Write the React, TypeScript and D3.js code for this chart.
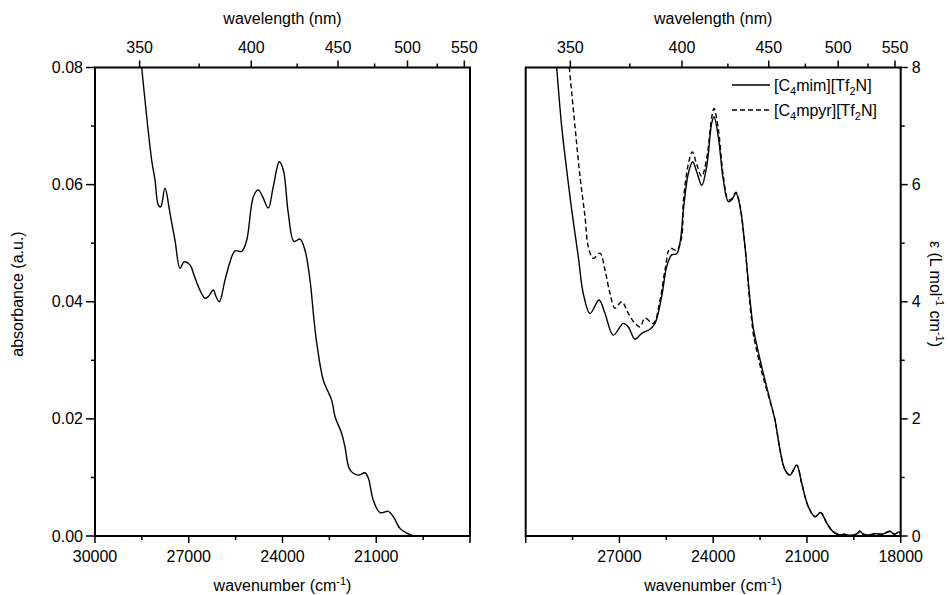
import React from 'react';
import * as d3 from 'd3';

// ---------- data ----------
const leftWn = [28506, 28187, 28080, 27974, 27898, 27760, 27600, 27440, 27280, 27152, 26960, 26854, 26694, 26480, 26374, 26214, 26128, 26022, 25840, 25680, 25520, 25306, 25146, 24934, 24774, 24634, 24454, 24294, 24102, 23974, 23814, 23632, 23440, 23280, 23120, 22992, 22906, 22694, 22426, 22320, 22106, 22000, 21840, 21574, 21360, 21254, 21094, 20880, 20614, 20454, 20240, 20026, 19814];
const leftAbs = [0.080, 0.0642, 0.0608, 0.0565, 0.0562, 0.0594, 0.0551, 0.0505, 0.0457, 0.0468, 0.0463, 0.0449, 0.0426, 0.0406, 0.0409, 0.0420, 0.0409, 0.0400, 0.0437, 0.0468, 0.0487, 0.0486, 0.0505, 0.0579, 0.0591, 0.0579, 0.0560, 0.0597, 0.0639, 0.0625, 0.0551, 0.0503, 0.0507, 0.0488, 0.0437, 0.0369, 0.0330, 0.0266, 0.0232, 0.0204, 0.0175, 0.0152, 0.0113, 0.0104, 0.0108, 0.0099, 0.0061, 0.0040, 0.0042, 0.0033, 0.0013, 0.0005, 0.0];

const mimWn = [29008, 28848, 28688, 28528, 28317, 28157, 27942, 27654, 27462, 27197, 26877, 26717, 26502, 26288, 26022, 25862, 25648, 25488, 25328, 25168, 25050, 24957, 24797, 24656, 24528, 24368, 24208, 24048, 23974, 23837, 23677, 23517, 23408, 23270, 23142, 22982, 22822, 22717, 22662, 22448, 22182, 22022, 21862, 21702, 21542, 21328, 21168, 20957, 20742, 20560, 20368, 20157, 19942, 19800, 19600, 19400, 19302, 19200, 19000, 18800, 18600, 18450, 18342, 18200, 18050, 18000];
const mimEps = [8.0, 6.99, 6.25, 5.57, 4.77, 4.14, 3.80, 4.03, 3.80, 3.43, 3.63, 3.57, 3.36, 3.46, 3.53, 3.63, 4.09, 4.60, 4.80, 4.82, 5.05, 5.55, 6.19, 6.39, 6.22, 5.99, 6.31, 7.05, 7.16, 6.82, 6.08, 5.71, 5.74, 5.85, 5.62, 4.94, 4.03, 3.55, 3.40, 2.89, 2.32, 1.98, 1.47, 1.13, 1.04, 1.21, 0.90, 0.50, 0.33, 0.40, 0.22, 0.07, 0.02, 0.03, 0.01, 0.04, 0.08, 0.03, 0.02, 0.04, 0.03, 0.06, 0.08, 0.03, 0.07, 0.02];

const mpyrWn = [28605, 28422, 28262, 28102, 27997, 27837, 27622, 27462, 27302, 27142, 26928, 26717, 26502, 26342, 26182, 25917, 25702, 25542, 25382, 25168, 25008, 24957, 24797, 24669, 24528, 24368, 24208, 24048, 23974, 23837, 23677, 23517, 23408, 23270, 23142, 22982, 22822, 22717, 22662, 22448, 22182, 22022, 21862, 21702, 21542, 21328, 21168, 20957, 20742, 20560, 20368, 20157, 19942, 19800, 19600, 19400, 19302, 19200, 19000, 18800, 18600, 18450, 18342, 18200, 18050, 18000];
const mpyrEps = [8.0, 6.99, 6.14, 5.45, 4.94, 4.74, 4.83, 4.54, 4.14, 3.89, 4.00, 3.80, 3.63, 3.57, 3.72, 3.63, 4.03, 4.54, 4.91, 4.88, 5.11, 5.70, 6.35, 6.56, 6.35, 6.14, 6.45, 7.15, 7.30, 6.95, 6.15, 5.74, 5.76, 5.87, 5.64, 4.94, 3.95, 3.45, 3.30, 2.80, 2.30, 1.98, 1.47, 1.13, 1.04, 1.21, 0.90, 0.50, 0.33, 0.40, 0.22, 0.07, 0.02, 0.03, 0.01, 0.04, 0.08, 0.03, 0.02, 0.04, 0.03, 0.06, 0.08, 0.03, 0.07, 0.02];

const wnTicks = [30000, 27000, 24000, 21000, 18000];
const wnMinor = [28500, 25500, 22500, 19500];
const leftWnLabels = [30000, 27000, 24000, 21000];
const rightWnLabels = [27000, 24000, 21000, 18000];
const wlTicks = [350, 400, 450, 500, 550];
const wlMinor = [375, 425, 475, 525];
const absTicks = [0, 0.02, 0.04, 0.06, 0.08];
const absMinor = [0.01, 0.03, 0.05, 0.07];
const epsTicks = [0, 2, 4, 6, 8];
const epsMinor = [1, 3, 5, 7];

const FONT = "'Liberation Sans', Arial, sans-serif";
const TOP = 67.5;
const BOTTOM = 536;
const MAJ = 7;
const MIN = 4;

function Panel({ x0, x1, side }: { x0: number; x1: number; side: 'left' | 'right' }) {
  const x = d3.scaleLinear().domain([30000, 18000]).range([x0, x1]);
  const y = side === 'left'
    ? d3.scaleLinear().domain([0, 0.08]).range([BOTTOM, TOP])
    : d3.scaleLinear().domain([0, 8]).range([BOTTOM, TOP]);
  const wl = (nm: number) => x(1e7 / nm);
  const clipId = 'clip-' + side;
  const line = d3.line<[number, number]>()
    .x(d => x(d[0]))
    .y(d => y(d[1]))
    .curve(d3.curveCatmullRom.alpha(0.5));
  const midX = (x0 + x1) / 2;
  const stroke = '#000';
  const labels = side === 'left' ? leftWnLabels : rightWnLabels;

  return (
    <g>
      <defs>
        <clipPath id={clipId}>
          <rect x={x0} y={TOP} width={x1 - x0} height={BOTTOM - TOP} />
        </clipPath>
      </defs>
      <g clipPath={`url(#${clipId})`} fill="none" stroke={stroke} strokeWidth={1.4}>
        {side === 'left' ? (
          <path d={line(leftWn.map((w, i) => [w, leftAbs[i]] as [number, number])) || ''} />
        ) : (
          <>
            <path d={line(mimWn.map((w, i) => [w, mimEps[i]] as [number, number])) || ''} />
            <path d={line(mpyrWn.map((w, i) => [w, mpyrEps[i]] as [number, number])) || ''} strokeDasharray="5,3" />
          </>
        )}
      </g>
      <rect x={x0} y={TOP} width={x1 - x0} height={BOTTOM - TOP} fill="none" stroke={stroke} strokeWidth={2} />
      {wnTicks.map(t => (
        <line key={'bt' + t} x1={x(t)} x2={x(t)} y1={BOTTOM} y2={BOTTOM + MAJ} stroke={stroke} strokeWidth={1.5} />
      ))}
      {wnMinor.map(t => (
        <line key={'bm' + t} x1={x(t)} x2={x(t)} y1={BOTTOM} y2={BOTTOM + MIN} stroke={stroke} strokeWidth={1.5} />
      ))}
      {labels.map(t => (
        <text key={'bl' + t} x={x(t)} y={562} textAnchor="middle" fontSize={16} fontFamily={FONT}>{t}</text>
      ))}
      <text x={midX} y={591} textAnchor="middle" fontSize={16} fontFamily={FONT}>
        wavenumber (cm<tspan dy={-6} fontSize={11}>-1</tspan><tspan dy={6}>)</tspan>
      </text>
      {wlTicks.map(t => (
        <line key={'tt' + t} x1={wl(t)} x2={wl(t)} y1={TOP} y2={TOP - MAJ} stroke={stroke} strokeWidth={1.5} />
      ))}
      {wlMinor.map(t => (
        <line key={'tm' + t} x1={wl(t)} x2={wl(t)} y1={TOP} y2={TOP - MIN} stroke={stroke} strokeWidth={1.5} />
      ))}
      {wlTicks.map(t => (
        <text key={'tl' + t} x={wl(t)} y={53} textAnchor="middle" fontSize={16} fontFamily={FONT}>{t}</text>
      ))}
      <text x={midX} y={24} textAnchor="middle" fontSize={16} fontFamily={FONT}>wavelength (nm)</text>
      {side === 'left' ? (
        <g>
          {absTicks.map(t => (
            <line key={'ly' + t} x1={x0} x2={x0 - MAJ - 2} y1={y(t)} y2={y(t)} stroke={stroke} strokeWidth={1.5} />
          ))}
          {absMinor.map(t => (
            <line key={'lym' + t} x1={x0} x2={x0 - MIN} y1={y(t)} y2={y(t)} stroke={stroke} strokeWidth={1.5} />
          ))}
          {absTicks.map(t => (
            <text key={'lyl' + t} x={x0 - 12} y={y(t) + 5.5} textAnchor="end" fontSize={16} fontFamily={FONT}>{d3.format('.2f')(t)}</text>
          ))}
          <text transform={`translate(23,294) rotate(-90)`} textAnchor="middle" fontSize={16} fontFamily={FONT}>absorbance (a.u.)</text>
        </g>
      ) : (
        <g>
          {epsTicks.map(t => (
            <line key={'ry' + t} x1={x1} x2={x1 + MAJ} y1={y(t)} y2={y(t)} stroke={stroke} strokeWidth={1.5} />
          ))}
          {epsMinor.map(t => (
            <line key={'rym' + t} x1={x1} x2={x1 + MIN} y1={y(t)} y2={y(t)} stroke={stroke} strokeWidth={1.5} />
          ))}
          {epsTicks.map(t => (
            <text key={'ryl' + t} x={x1 + 11} y={y(t) + 5.5} textAnchor="start" fontSize={16} fontFamily={FONT}>{t}</text>
          ))}
          <text transform={`translate(930,294) rotate(90)`} textAnchor="middle" fontSize={16} fontFamily={FONT}>
            ε (L mol<tspan dy={-6} fontSize={11}>-1</tspan><tspan dy={6}> cm</tspan><tspan dy={-6} fontSize={11}>-1</tspan><tspan dy={6}>)</tspan>
          </text>
          <line x1={732} x2={770} y1={85} y2={85} stroke={stroke} strokeWidth={1.4} />
          <text x={774} y={91} fontSize={16} fontFamily={FONT}>
            [C<tspan dy={4} fontSize={11}>4</tspan><tspan dy={-4}>mim][Tf</tspan><tspan dy={4} fontSize={11}>2</tspan><tspan dy={-4}>N]</tspan>
          </text>
          <line x1={732} x2={770} y1={110} y2={110} stroke={stroke} strokeWidth={1.4} strokeDasharray="5,3" />
          <text x={774} y={116} fontSize={16} fontFamily={FONT}>
            [C<tspan dy={4} fontSize={11}>4</tspan><tspan dy={-4}>mpyr][Tf</tspan><tspan dy={4} fontSize={11}>2</tspan><tspan dy={-4}>N]</tspan>
          </text>
        </g>
      )}
    </g>
  );
}

export default function App() {
  return (
    <svg width={950} height={595} style={{ position: 'absolute', left: 0, top: 0, background: '#fff' }}>
      <rect x={0} y={0} width={950} height={595} fill="#fff" />
      <Panel x0={95} x1={470} side="left" />
      <Panel x0={525.7} x1={900.7} side="right" />
    </svg>
  );
}
